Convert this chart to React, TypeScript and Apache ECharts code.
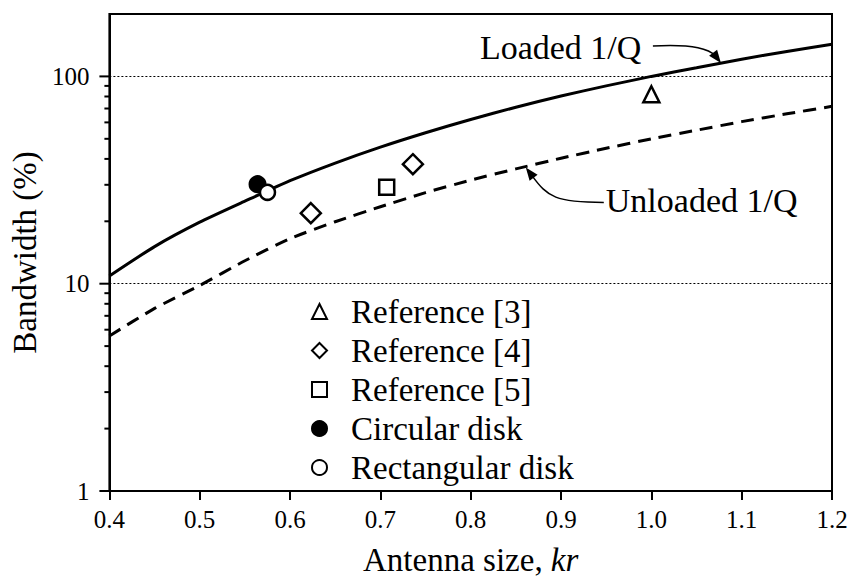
import React, { useEffect, useRef } from 'react';
import * as echarts from 'echarts';

const FONT = "'Times New Roman', 'Liberation Serif', serif";

// Curves
const kr = [0.4, 0.45, 0.5, 0.55, 0.6, 0.65, 0.7, 0.75, 0.8, 0.85, 0.9, 0.95, 1.0, 1.05, 1.1, 1.15, 1.2];
const loadedBW = [10.9, 15.1, 19.8, 25.0, 31.4, 38.2, 45.6, 53.5, 62, 71, 80.5, 90, 100, 110, 121, 132, 143];
const unloadedBW = [5.6, 7.6, 9.8, 12.9, 16.5, 19.9, 23.5, 27.5, 31.6, 35.8, 40.3, 45, 50, 55, 60.5, 66, 71.7];

// Measured points
const ref3 = [[1.0, 82]];
const ref4 = [[0.623, 21.9], [0.736, 37.7]];
const ref5 = [[0.707, 29.2]];
const circularDisk = [[0.564, 30.2]];
const rectangularDisk = [[0.575, 27.6]];

// Axis ticks
const yMajorTicks = [1, 10, 100];
const yMinorTicks = [2, 3, 4, 5, 6, 7, 8, 9, 20, 30, 40, 50, 60, 70, 80, 90];
const yLabels = [1, 10, 100];

// Annotation anchors (data coordinates of arrow tips)
const loadedTip = [1.077, 116];
const unloadedTip = [0.861, 36.4];

const legendNames = ['Reference [3]', 'Reference [4]', 'Reference [5]', 'Circular disk', 'Rectangular disk'];

function arrowHead(tip: number[], dx: number, dy: number, len = 13, half = 5) {
  const n = Math.hypot(dx, dy);
  const ux = dx / n, uy = dy / n;
  const bx = tip[0] - ux * len, by = tip[1] - uy * len;
  const px = -uy, py = ux;
  return [
    [tip[0], tip[1]],
    [bx + px * half, by + py * half],
    [bx - px * half, by - py * half],
  ];
}

export default function App() {
  const ref = useRef<HTMLDivElement>(null);
  useEffect(() => {
    if (!ref.current) return;
    const chart = echarts.init(ref.current, null, { renderer: 'svg' });
    const hollow = { color: '#fff', borderColor: '#000', borderWidth: 2.5, opacity: 1 };
    const option: any = {
      animation: false,
      backgroundColor: '#fff',
      textStyle: { fontFamily: FONT },
      grid: { left: 103, right: 20, top: 14, bottom: 89, show: true, borderColor: '#000', borderWidth: 2, backgroundColor: 'transparent' },
      legend: {
        data: legendNames,
        orient: 'vertical',
        left: 306,
        top: 290,
        itemWidth: 15,
        itemHeight: 15,
        itemGap: 6,
        selectedMode: false,
        textStyle: { fontFamily: FONT, fontSize: 33, color: '#000', lineHeight: 32, padding: [0, 0, 0, 19] },
      },
      xAxis: {
        type: 'value',
        min: 0.4,
        max: 1.2,
        interval: 0.1,
        name: 'Antenna size, {i|kr}',
        nameLocation: 'middle',
        nameGap: 52,
        nameTextStyle: {
          fontFamily: FONT, fontSize: 33, color: '#000',
          rich: { i: { fontFamily: FONT, fontSize: 33, fontStyle: 'italic', color: '#000' } },
        },
        axisLine: { lineStyle: { color: '#000', width: 2 } },
        axisTick: { show: true, length: 9, lineStyle: { color: '#000', width: 2 } },
        axisLabel: { fontFamily: FONT, fontSize: 25, color: '#000', margin: 16, formatter: (v: number) => v.toFixed(1) },
        splitLine: { show: false },
      },
      yAxis: {
        type: 'log',
        logBase: 10,
        min: 1,
        max: 200,
        name: 'Bandwidth (%)',
        nameLocation: 'middle',
        nameGap: 54,
        nameTextStyle: { fontFamily: FONT, fontSize: 33, color: '#000' },
        axisLine: { lineStyle: { color: '#000', width: 2 } },
        axisTick: { show: false },
        axisLabel: {
          fontFamily: FONT, fontSize: 25, color: '#000', margin: 20, showMaxLabel: false,
          formatter: (v: number) => (yLabels.some((l) => Math.abs(l - v) < 1e-6) ? String(Math.round(v)) : ''),
        },
        splitLine: { show: true, lineStyle: { color: '#000', width: 1, type: [2, 2] } },
      },
      series: [
        {
          name: 'Loaded 1/Q', type: 'line', data: kr.map((x, i) => [x, loadedBW[i]]),
          showSymbol: false, smooth: 0.2, lineStyle: { color: '#000', width: 3 }, z: 3,
        },
        {
          name: 'Unloaded 1/Q', type: 'line', data: kr.map((x, i) => [x, unloadedBW[i]]),
          showSymbol: false, smooth: 0.2, lineStyle: { color: '#000', width: 3, type: [13, 8] }, z: 3,
        },
        {
          name: 'yTicks', type: 'custom', clip: false, silent: true, z: 5,
          data: [...yMajorTicks.map((v) => [0.4, v, 1]), ...yMinorTicks.map((v) => [0.4, v, 0])],
          renderItem: (params: any, api: any) => {
            const p = api.coord([api.value(0), api.value(1)]);
            const len = api.value(2) === 1 ? 10 : 5;
            return { type: 'line', shape: { x1: p[0] - len, y1: p[1], x2: p[0], y2: p[1] }, style: { stroke: '#000', lineWidth: 2 } };
          },
        },
        { name: 'Reference [3]', type: 'scatter', symbol: 'triangle', symbolSize: 16, data: ref3, itemStyle: hollow, z: 6 },
        { name: 'Reference [4]', type: 'scatter', symbol: 'diamond', symbolSize: 20, data: ref4, itemStyle: hollow, z: 6 },
        { name: 'Reference [5]', type: 'scatter', symbol: 'rect', symbolSize: 15, data: ref5, itemStyle: hollow, z: 6 },
        { name: 'Circular disk', type: 'scatter', symbol: 'circle', symbolSize: 16, data: circularDisk, itemStyle: { color: '#000', borderColor: '#000', borderWidth: 2, opacity: 1 }, z: 6 },
        { name: 'Rectangular disk', type: 'scatter', symbol: 'circle', symbolSize: 15, data: rectangularDisk, itemStyle: hollow, z: 7 },
      ],
    };
    chart.setOption(option);

    const t1 = chart.convertToPixel({ gridIndex: 0 } as any, loadedTip) as number[];
    const t2 = chart.convertToPixel({ gridIndex: 0 } as any, unloadedTip) as number[];
    const stroke = { stroke: '#000', lineWidth: 1.5, fill: 'none' };
    chart.setOption({
      graphic: [
        { type: 'text', x: t1[0] - 241, y: t1[1] - 16, style: { text: 'Loaded 1/Q', fontFamily: FONT, fontSize: 34, fill: '#000', align: 'left', verticalAlign: 'middle' } },
        {
          type: 'bezierCurve',
          shape: { x1: t1[0] - 68, y1: t1[1] - 17, cpx1: t1[0] - 25, cpy1: t1[1] - 19, cpx2: t1[0] - 12, cpy2: t1[1] - 14, x2: t1[0] - 5, y2: t1[1] - 7 },
          style: stroke,
        },
        { type: 'polygon', shape: { points: arrowHead(t1, 0.75, 1) }, style: { fill: '#000' } },
        { type: 'text', x: t2[0] + 80, y: t2[1] + 33, style: { text: 'Unloaded 1/Q', fontFamily: FONT, fontSize: 34, fill: '#000', align: 'left', verticalAlign: 'middle' } },
        {
          type: 'bezierCurve',
          shape: { x1: t2[0] + 78, y1: t2[1] + 35, cpx1: t2[0] + 30, cpy1: t2[1] + 35, cpx2: t2[0] + 22, cpy2: t2[1] + 30, x2: t2[0] + 6, y2: t2[1] + 8 },
          style: stroke,
        },
        { type: 'polygon', shape: { points: arrowHead(t2, -0.75, -1) }, style: { fill: '#000' } },
      ],
    });
    return () => chart.dispose();
  }, []);
  return <div ref={ref} style={{ position: 'fixed', left: 0, top: 0, width: 852, height: 581 }} />;
}
